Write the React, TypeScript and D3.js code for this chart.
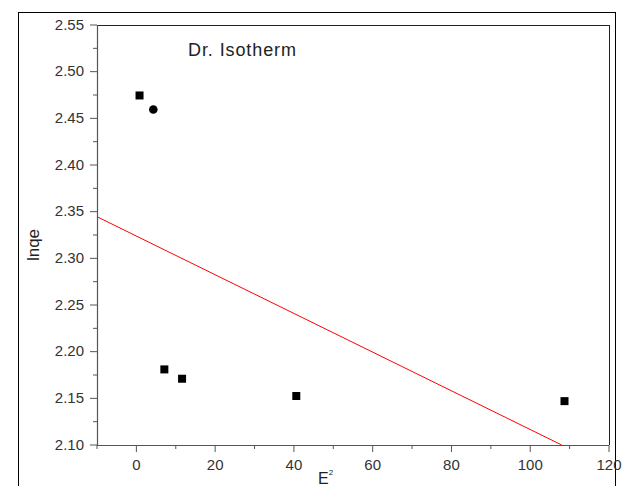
import React from "react";
import * as d3 from "d3";

const squareX = [0.8, 7.1, 11.6, 40.6, 108.7];
const squareY = [2.4745, 2.181, 2.171, 2.1525, 2.147];
const circleX = [4.3];
const circleY = [2.4595];
const fitX = [-10, 108];
const fitY = [2.3446, 2.1];
const xTicks = [0, 20, 40, 60, 80, 100, 120];
const yTicks = [2.1, 2.15, 2.2, 2.25, 2.3, 2.35, 2.4, 2.45, 2.5, 2.55];

const W = 628, H = 486;
const L = 97, R = 609, T = 25, B = 445;

export default function App() {
  const x = d3.scaleLinear().domain([-10, 120]).range([L, R]);
  const y = d3.scaleLinear().domain([2.1, 2.55]).range([B, T]);
  const xMinor = d3.range(-10, 121, 10).filter((v) => v % 20 !== 0);
  const yMinor = d3.range(0, 9).map((i) => 2.125 + i * 0.05);
  const line = d3.line<number>().x((d, i) => x(fitX[i])).y((d, i) => y(fitY[i]));
  const font = "'Liberation Sans', Arial, sans-serif";
  const axisColor = "#555";
  return (
    <svg width={W} height={H} style={{ position: "absolute", left: 0, top: 0 }}>
      <rect x={0} y={0} width={W} height={H} fill="#fff" />
      <rect x={18.5} y={12.5} width={597} height={490} fill="none" stroke="#000" strokeWidth={1} />
      <defs>
        <clipPath id="plotclip">
          <rect x={L} y={T} width={R - L} height={B - T} />
        </clipPath>
      </defs>
      {/* frame */}
      <line x1={L} y1={T + 0.5} x2={R} y2={T + 0.5} stroke="#222" />
      <line x1={R + 0.5} y1={T} x2={R + 0.5} y2={B} stroke="#222" />
      <line x1={L + 0.5} y1={T} x2={L + 0.5} y2={B} stroke={axisColor} strokeWidth={1.2} />
      <line x1={L} y1={B + 0.5} x2={R} y2={B + 0.5} stroke={axisColor} strokeWidth={1.2} />
      {/* y ticks */}
      {yTicks.map((t) => (
        <g key={"y" + t}>
          <line x1={L - 7} x2={L} y1={y(t)} y2={y(t)} stroke={axisColor} />
          <text x={L - 13} y={y(t) + 4.5} textAnchor="end" fontFamily={font} fontSize={15} fill="#333">
            {t.toFixed(2)}
          </text>
        </g>
      ))}
      {yMinor.map((t) => (
        <line key={"ym" + t} x1={L - 4} x2={L} y1={y(t)} y2={y(t)} stroke={axisColor} />
      ))}
      {/* x ticks */}
      {xTicks.map((t) => (
        <g key={"x" + t}>
          <line x1={x(t)} x2={x(t)} y1={B} y2={B + 7} stroke={axisColor} />
          <text x={x(t)} y={B + 25} textAnchor="middle" fontFamily={font} fontSize={15} fill="#333">
            {t}
          </text>
        </g>
      ))}
      {xMinor.map((t) => (
        <line key={"xm" + t} x1={x(t)} x2={x(t)} y1={B} y2={B + 4} stroke={axisColor} />
      ))}
      {/* fit line */}
      <path d={line(fitX) || ""} fill="none" stroke="#ff0000" strokeWidth={1} clipPath="url(#plotclip)" />
      {/* points */}
      {squareX.map((v, i) => (
        <rect key={"s" + i} x={x(v) - 4} y={y(squareY[i]) - 4} width={8} height={8} fill="#000" />
      ))}
      {circleX.map((v, i) => (
        <circle key={"c" + i} cx={x(v)} cy={y(circleY[i])} r={4.3} fill="#000" />
      ))}
      {/* labels */}
      <text x={188} y={55.5} fontFamily={font} fontSize={18} fill="#222" textLength={108} lengthAdjust="spacing">Dr. Isotherm</text>
      <text x={0} y={0} transform={`translate(39,${(T + B) / 2 + 10}) rotate(-90)`} textAnchor="middle" fontFamily={font} fontSize={17} fill="#222">
        lnqe
      </text>
      <text x={318} y={484} fontFamily={font} fontSize={16} fill="#222">
        E<tspan fontSize={8} dy={-9}>2</tspan>
      </text>
    </svg>
  );
}
